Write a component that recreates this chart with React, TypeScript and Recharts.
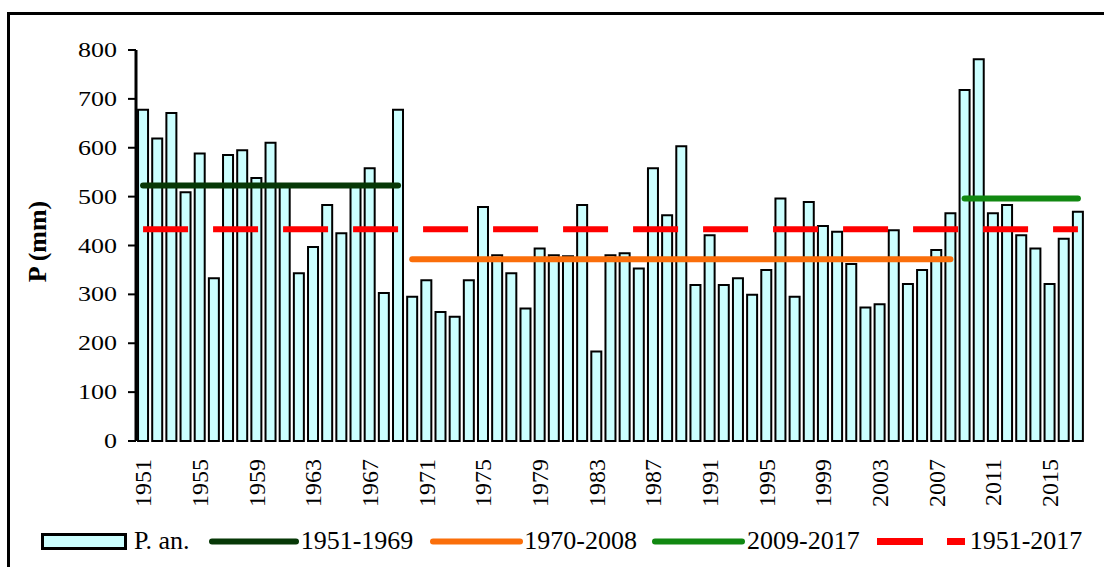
import React from 'react';
import { ComposedChart, Bar, Line, XAxis, YAxis, Legend } from 'recharts';

const years = [
  '1951', '1952', '1953', '1954', '1955', '1956', '1957', '1958', '1959', '1960',
  '1961', '1962', '1963', '1964', '1965', '1966', '1967', '1968', '1969', '1970',
  '1971', '1972', '1973', '1974', '1975', '1976', '1977', '1978', '1979', '1980',
  '1981', '1982', '1983', '1984', '1985', '1986', '1987', '1988', '1989', '1990',
  '1991', '1992', '1993', '1994', '1995', '1996', '1997', '1998', '1999', '2000',
  '2001', '2002', '2003', '2004', '2005', '2006', '2007', '2008', '2009', '2010',
  '2011', '2012', '2013', '2014', '2015', '2016', '2017',
];

const precip = [
  678, 619, 671, 509, 588, 333, 585, 595, 538, 610,
  522, 343, 397, 483, 425, 520, 558, 303, 678, 295,
  329, 264, 254, 329, 479, 380, 343, 271, 394, 380,
  378, 483, 183, 380, 384, 353, 558, 462, 603, 319,
  421, 319, 333, 299, 350, 496, 295, 489, 440, 428,
  362, 273, 280, 431, 321, 350, 391, 466, 718, 781,
  466, 483, 421, 394, 321, 414, 469,
];

const yTicks = [0, 100, 200, 300, 400, 500, 600, 700, 800];

const periods = [
  { key: 'm1', label: '1951-1969', from: 1951, to: 1969, value: 523, color: '#073807' },
  { key: 'm2', label: '1970-2008', from: 1970, to: 2008, value: 372, color: '#fa6e0a' },
  { key: 'm3', label: '2009-2017', from: 2009, to: 2017, value: 496, color: '#118811' },
];
const overall = { key: 'mAll', label: '1951-2017', value: 433, color: '#ff0000' };

const barName = 'P. an.';

const data = years.map((y, i) => {
  const row: Record<string, any> = { year: y, idx: i + 0.5, p: precip[i], [overall.key]: overall.value };
  periods.forEach((pd) => {
    const yr = Number(y);
    row[pd.key] = yr >= pd.from && yr <= pd.to ? pd.value : null;
  });
  return row;
});

const edges = Array.from({ length: years.length + 1 }, (_, i) => i);

const SERIF = "'Liberation Serif', 'Times New Roman', serif";

const YTick = (props: any) => {
  const { x, y, payload } = props;
  return (
    <text
      transform={`translate(${x},${y}) scale(1.3,1)`}
      textAnchor="end"
      dy="0.35em"
      fontFamily={SERIF}
      fontSize={20}
      fill="#000"
    >
      {payload.value}
    </text>
  );
};

const XTick = (props: any) => {
  const { x, y, payload } = props;
  return (
    <text
      transform={`translate(${x},${y}) rotate(-90)`}
      textAnchor="end"
      dy="0.35em"
      fontFamily={SERIF}
      fontSize={24}
      fill="#000"
    >
      {payload.value}
    </text>
  );
};

const YLabel = (props: any) => {
  const { viewBox } = props;
  const cx = viewBox.x + 37;
  const cy = viewBox.y + viewBox.height / 2 - 4;
  return (
    <text
      transform={`translate(${cx},${cy}) rotate(-90)`}
      textAnchor="middle"
      dy="0.35em"
      fontFamily={SERIF}
      fontWeight="bold"
      fontSize={26}
      fill="#000"
    >
      P (mm)
    </text>
  );
};

const swatchWidths = [86, 90, 93, 93, 88];
const textGaps = [7, 2, 1, 2, 5];
const itemGaps = [19, 17, 15, 17, 0];

const LegendContent = () => {
  const items = [
    { label: barName, kind: 'bar', color: '#ccffff' },
    ...periods.map((p) => ({ label: p.label, kind: 'line', color: p.color })),
    { label: overall.label, kind: 'dash', color: overall.color },
  ];
  return (
    <div style={{ height: 64, display: 'flex', alignItems: 'flex-start', paddingTop: 25, paddingLeft: 41, boxSizing: 'border-box' }}>
      {items.map((it, i) => {
        const w = swatchWidths[i];
        return (
          <div key={it.label} style={{ display: 'flex', alignItems: 'center', marginRight: itemGaps[i] }}>
            <svg width={w} height={17} style={{ display: 'block' }}>
              {it.kind === 'bar' && (
                <rect x={1.5} y={1.5} width={w - 3} height={14} fill={it.color} stroke="#000" strokeWidth={3} />
              )}
              {it.kind === 'line' && (
                <line x1={3} y1={8.5} x2={w - 3} y2={8.5} stroke={it.color} strokeWidth={6} strokeLinecap="round" />
              )}
              {it.kind === 'dash' && (
                <line x1={0} y1={8.5} x2={w} y2={8.5} stroke={it.color} strokeWidth={7} strokeDasharray="46 24 18 0" />
              )}
            </svg>
            <span
              style={{
                fontFamily: SERIF,
                fontSize: 26,
                color: '#000',
                marginLeft: textGaps[i],
                lineHeight: '26px',
                whiteSpace: 'nowrap',
              }}
            >
              {it.label}
            </span>
          </div>
        );
      })}
    </div>
  );
};

export default function App() {
  return (
    <div style={{ position: 'fixed', left: 0, top: 0, width: 1104, height: 567, background: '#fff', overflow: 'hidden' }}>
      <div
        style={{
          position: 'absolute',
          left: 7,
          top: 12,
          width: 1120,
          height: 600,
          border: '3px solid #000',
          boxSizing: 'border-box',
        }}
      />
      <div style={{ position: 'absolute', left: 0, top: 0 }}>
        <ComposedChart
          width={1104}
          height={567}
          data={data}
          margin={{ top: 50, right: 19, left: 0, bottom: 0 }}
          barCategoryGap="14.5%"
        >
          <XAxis
            xAxisId="edge"
            type="number"
            dataKey="idx"
            domain={[0, years.length]}
            ticks={edges}
            allowDataOverflow
            interval={0}
            tick={false}
            tickSize={8}
            height={0}
            axisLine={{ stroke: '#000', strokeWidth: 3 }}
            tickLine={{ stroke: '#000', strokeWidth: 2 }}
          />
          <XAxis
            xAxisId="cat"
            dataKey="year"
            type="category"
            interval={3}
            axisLine={false}
            tickLine={false}
            tickMargin={12}
            height={62}
            tick={<XTick />}
          />
          <YAxis
            domain={[0, 800]}
            ticks={yTicks}
            interval={0}
            width={136}
            tickSize={8}
            tickMargin={11}
            axisLine={{ stroke: '#000', strokeWidth: 3 }}
            tickLine={{ stroke: '#000', strokeWidth: 2 }}
            tick={<YTick />}
            label={<YLabel />}
          />
          <Bar
            xAxisId="cat"
            dataKey="p"
            name={barName}
            fill="#ccffff"
            stroke="#000"
            strokeWidth={2}
            isAnimationActive={false}
          />
          <Line
            xAxisId="cat"
            dataKey={overall.key}
            name={overall.label}
            stroke={overall.color}
            strokeWidth={6}
            strokeDasharray="45 25"
            dot={false}
            activeDot={false}
            isAnimationActive={false}
          />
          {periods.map((pd) => (
            <Line
              key={pd.key}
              xAxisId="cat"
              dataKey={pd.key}
              name={pd.label}
              stroke={pd.color}
              strokeWidth={6}
              strokeLinecap="round"
              dot={false}
              activeDot={false}
              connectNulls={false}
              isAnimationActive={false}
            />
          ))}
          <Legend verticalAlign="bottom" align="left" height={64} content={<LegendContent />} />
        </ComposedChart>
      </div>
    </div>
  );
}
